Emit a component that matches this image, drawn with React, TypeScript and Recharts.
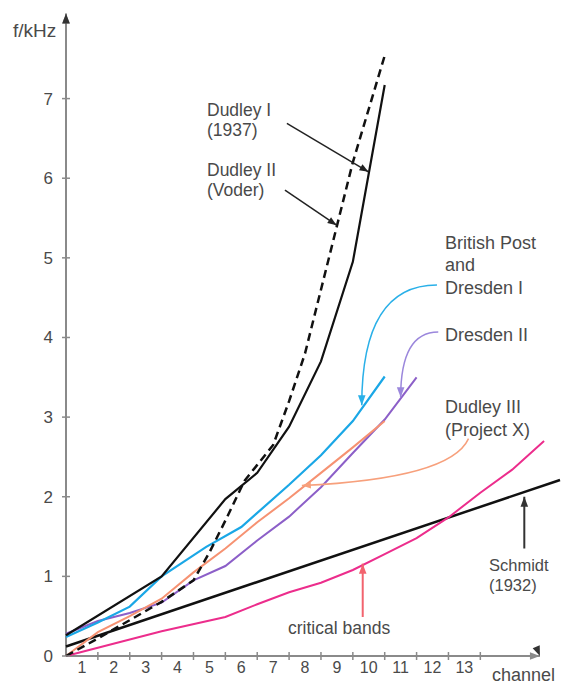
import React from 'react';
import { LineChart, Line, XAxis, YAxis, ReferenceLine } from 'recharts';

// channel number -> upper frequency (kHz)
const dudley1 = [[0, 0.26], [3, 1.0], [5, 1.97], [6, 2.3], [7, 2.88], [8, 3.7], [9, 4.95], [10, 7.17]];
const dudley2 = [[0, 0], [1, 0.22], [2, 0.45], [3, 0.68], [4, 0.95], [4.5, 1.3], [5, 1.7], [5.6, 2.2], [6, 2.4], [6.5, 2.65], [7, 3.2], [7.5, 3.8], [8, 4.6], [9, 6.2], [10, 7.54]];
const britishPost = [[0, 0.24], [1, 0.42], [2, 0.62], [3, 1.0], [4.4, 1.37], [5.5, 1.62], [7, 2.15], [8, 2.52], [9, 2.95], [10, 3.51]];
const dresden2 = [[0, 0.28], [1, 0.44], [2, 0.54], [3, 0.67], [4, 0.95], [5, 1.13], [6, 1.45], [7, 1.75], [8, 2.12], [9, 2.55], [10, 2.97], [11, 3.5]];
const dudley3 = [[0, 0], [1, 0.3], [2, 0.5], [3, 0.72], [4, 1.05], [5, 1.35], [6, 1.68], [7, 1.98], [8, 2.3], [9, 2.62], [10, 2.95]];
const criticalBands = [[0, 0], [3, 0.31], [5, 0.49], [6, 0.65], [7, 0.8], [8, 0.92], [9, 1.08], [10, 1.28], [11, 1.48], [12, 1.74], [13, 2.05], [14, 2.34], [15, 2.7]];
const schmidt = [[0, 0.12], [15.5, 2.21]];

const X_TICKS = [1, 2, 3, 4, 5, 6, 7, 8, 9, 10, 11, 12, 13];
const Y_TICKS = [0, 1, 2, 3, 4, 5, 6, 7];

const toRows = (pts: number[][]) => pts.map(([ch, f]) => ({ ch, f }));

const AXIS = '#8a8a8a';
const TEXT = '#4a4a4a';
const FONT = '"Liberation Sans", Arial, sans-serif';

const YTick = (props: any) => {
  const { x, y, payload } = props;
  return (
    <g>
      <line x1={x - 4} x2={x + 4} y1={y} y2={y} stroke={AXIS} strokeWidth={1.5} />
      <text x={x - 13} y={y + 6} textAnchor="end" fontSize={17} fill={TEXT} fontFamily={FONT}>
        {payload.value}
      </text>
    </g>
  );
};

const XTick = (props: any) => {
  const { x, y, payload } = props;
  return (
    <g>
      <line x1={x} x2={x} y1={y - 4} y2={y + 4} stroke={AXIS} strokeWidth={1.5} />
      <text x={x - 16} y={y + 17} textAnchor="middle" fontSize={16} fill={TEXT} fontFamily={FONT}>
        {payload.value}
      </text>
    </g>
  );
};

// line or quadratic curve ending in a filled arrowhead; curve places the control point
const arrow = (color: string, width: number, head: number, curve?: [number, number]) => (props: any) => {
  const { x1, y1, x2, y2 } = props;
  let d = `M${x1},${y1} L${x2},${y2}`;
  let fx = x1;
  let fy = y1;
  if (curve) {
    fx = x1 + curve[0] * (x2 - x1);
    fy = y1 + curve[1] * (y2 - y1);
    d = `M${x1},${y1} Q${fx},${fy} ${x2},${y2}`;
  }
  const len = Math.hypot(x2 - fx, y2 - fy) || 1;
  const ux = (x2 - fx) / len;
  const uy = (y2 - fy) / len;
  const bx = x2 - ux * head;
  const by = y2 - uy * head;
  const hw = head * 0.38;
  const pts = `${x2},${y2} ${bx - uy * hw},${by + ux * hw} ${bx + uy * hw},${by - ux * hw}`;
  return (
    <g>
      <path d={d} fill="none" stroke={color} strokeWidth={width} />
      <polygon points={pts} fill={color} />
    </g>
  );
};

export default function App() {
  return (
    <div style={{ position: 'absolute', left: 0, top: 0, width: 562, height: 684, background: '#fff' }}>
      <LineChart width={562} height={684} margin={{ top: 11, right: 2, bottom: 0, left: 0 }}>
        <XAxis
          dataKey="ch"
          type="number"
          domain={[0, 15.5]}
          ticks={X_TICKS}
          interval={0}
          axisLine={false}
          tickLine={false}
          tickSize={0}
          tickMargin={0}
          height={28}
          tick={<XTick />}
        />
        <YAxis
          type="number"
          domain={[0, 8.1]}
          ticks={Y_TICKS}
          interval={0}
          axisLine={false}
          tickLine={false}
          tickSize={0}
          tickMargin={0}
          width={66}
          tick={<YTick />}
        />

        {/* axes with arrowheads */}
        <ReferenceLine segment={[{ x: 0, y: 0 }, { x: 14.87, y: 0 }]} ifOverflow="visible" shape={arrow(AXIS, 2, 10)} />
        <ReferenceLine segment={[{ x: 0, y: 0 }, { x: 0, y: 8.07 }]} ifOverflow="visible" shape={arrow(AXIS, 2, 10)} />
        <ReferenceLine segment={[{ x: 14.85, y: 0.02 }, { x: 14.87, y: 0 }]} ifOverflow="visible" shape={arrow('#333', 0, 10)} />
        <ReferenceLine segment={[{ x: 0, y: 8.0 }, { x: 0, y: 8.07 }]} ifOverflow="visible" shape={arrow('#333', 0, 10)} />

        <Line data={toRows(schmidt)} dataKey="f" stroke="#111" strokeWidth={2.5} dot={false} isAnimationActive={false} />
        <Line data={toRows(criticalBands)} dataKey="f" stroke="#ec2d8c" strokeWidth={2} dot={false} isAnimationActive={false} />
        <Line data={toRows(dresden2)} dataKey="f" stroke="#8c5fc8" strokeWidth={2} dot={false} isAnimationActive={false} />
        <Line data={toRows(dudley3)} dataKey="f" stroke="#f69272" strokeWidth={2} dot={false} isAnimationActive={false} />
        <Line data={toRows(britishPost)} dataKey="f" stroke="#1aa7e6" strokeWidth={2.2} dot={false} isAnimationActive={false} />
        <Line data={toRows(dudley2)} dataKey="f" stroke="#111" strokeWidth={2.5} strokeDasharray="8 5" dot={false} isAnimationActive={false} />
        <Line data={toRows(dudley1)} dataKey="f" stroke="#111" strokeWidth={2.2} dot={false} isAnimationActive={false} />

        {/* annotation arrows */}
        <ReferenceLine segment={[{ x: 6.93, y: 6.69 }, { x: 9.49, y: 6.08 }]} ifOverflow="visible" shape={arrow('#222', 1.5, 9)} />
        <ReferenceLine segment={[{ x: 6.87, y: 5.85 }, { x: 8.49, y: 5.41 }]} ifOverflow="visible" shape={arrow('#222', 1.5, 9)} />
        <ReferenceLine segment={[{ x: 11.64, y: 4.66 }, { x: 9.28, y: 3.15 }]} ifOverflow="visible" shape={arrow('#2ab0e8', 1.5, 10, [1, 0])} />
        <ReferenceLine segment={[{ x: 11.68, y: 4.07 }, { x: 10.5, y: 3.25 }]} ifOverflow="visible" shape={arrow('#9b87dc', 1.5, 10, [1, 0])} />
        <ReferenceLine segment={[{ x: 12.63, y: 2.73 }, { x: 7.4, y: 2.14 }]} ifOverflow="visible" shape={arrow('#f7a07c', 1.5, 9, [0.108, 0.85])} />
        <ReferenceLine segment={[{ x: 14.38, y: 1.35 }, { x: 14.38, y: 2.0 }]} ifOverflow="visible" shape={arrow('#333', 2, 10)} />
        <ReferenceLine segment={[{ x: 9.31, y: 0.49 }, { x: 9.31, y: 1.16 }]} ifOverflow="visible" shape={arrow('#f2636e', 2, 10)} />
      </LineChart>

      <svg
        width={562}
        height={684}
        style={{ position: 'absolute', left: 0, top: 0, pointerEvents: 'none' }}
        fontFamily={FONT}
        fill={TEXT}
      >
        <text x={13} y={37} fontSize={19}>f/kHz</text>
        <text x={492} y={681} fontSize={18}>channel</text>

        <text x={207} y={116} fontSize={17.5}>Dudley I</text>
        <text x={207} y={136} fontSize={17.5}>(1937)</text>
        <text x={207} y={176} fontSize={17.5}>Dudley II</text>
        <text x={207} y={196} fontSize={17.5}>(Voder)</text>

        <text x={445} y={249} fontSize={18}>British Post</text>
        <text x={445} y={271} fontSize={18}>and</text>
        <text x={445} y={294} fontSize={18}>Dresden I</text>
        <text x={445} y={341} fontSize={18}>Dresden II</text>
        <text x={445} y={413} fontSize={18}>Dudley III</text>
        <text x={445} y={436} fontSize={18}>(Project X)</text>

        <text x={489} y={571} fontSize={16.5}>Schmidt</text>
        <text x={489} y={591} fontSize={16.5}>(1932)</text>
        <text x={288} y={634} fontSize={17.5}>critical bands</text>
      </svg>
    </div>
  );
}
